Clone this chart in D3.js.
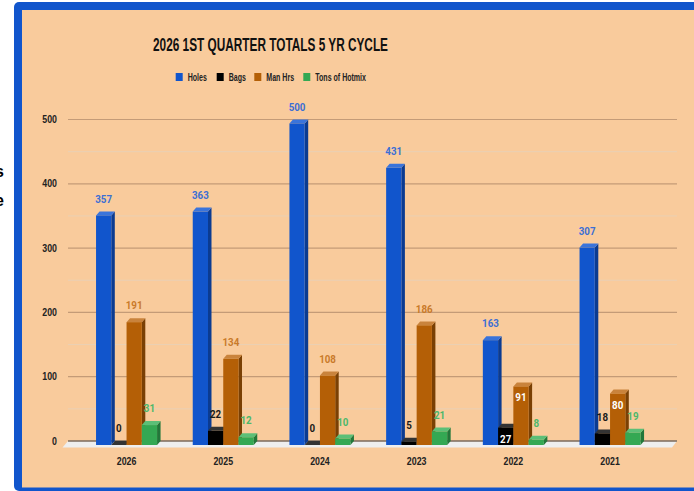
<!DOCTYPE html>
<html lang="en">
<script src="https://d3js.org/d3.v7.min.js"></script>
<style>
    body {margin: 0; background: #fff;}
    svg {display: block;}
    .title {font-family: "Liberation Sans", Arial, sans-serif; font-weight: bold; font-size: 18.5px; fill: #111;}
    .legend text, .xlab, .ylab {font-family: "Liberation Sans", Arial, sans-serif; font-weight: bold; font-size: 10px; fill: #222;}
    .legend text {font-size: 10.5px;}
    .val {font-family: Roboto, "Liberation Sans", sans-serif; font-weight: bold; font-size: 11.5px; text-anchor: middle;}
</style>
<body>
    <svg width="694" height="491"></svg>
</body>
<script>
    var years = ["2026", "2025", "2024", "2023", "2022", "2021"];
    var seriesNames = ["Holes", "Bags", "Man Hrs", "Tons of Hotmix"];
    var holes = [357, 363, 500, 431, 163, 307];
    var bags = [0, 22, 0, 5, 27, 18];
    var manHrs = [191, 134, 108, 186, 91, 80];
    var hotmix = [31, 12, 10, 21, 8, 19];
    var yTicks = [0, 100, 200, 300, 400, 500];
    var minorTicks = [50, 150, 250, 350, 450];
    // labels that Sheets pushed inside the bar
    var insideLabels = ["2022|Bags", "2022|Man Hrs", "2021|Man Hrs"];

    var colors = {
        "Holes": {front: "#1155cc", side: "#0b3b91", top: "#3a74db", label: "#3c6fd4"},
        "Bags": {front: "#000000", side: "#111111", top: "#333333", label: "#1a1a1a"},
        "Man Hrs": {front: "#b45f06", side: "#7a4004", top: "#c9833c", label: "#c97a2a"},
        "Tons of Hotmix": {front: "#34a853", side: "#22773a", top: "#5cbf77", label: "#4cb86a"}
    };

    var values = {"Holes": holes, "Bags": bags, "Man Hrs": manHrs, "Tons of Hotmix": hotmix};

    var svg = d3.select("svg");

    // the sheet font is a condensed one, squeeze text horizontally
    function squeeze(sel, f){
        sel.each(function(){
            var len = this.getComputedTextLength();
            d3.select(this).attr("textLength", len * f).attr("lengthAdjust", "spacingAndGlyphs");
        });
    }

    // frame
    svg.append("rect").attr("x", 14).attr("y", 2).attr("width", 700).attr("height", 489).attr("rx", 5).attr("fill", "#1155cc");
    svg.append("rect").attr("x", 22).attr("y", 10).attr("width", 700).attr("height", 477.5).attr("fill", "#f9cb9c");

    // cut-off text left of the frame
    svg.append("text").attr("x", 4).attr("y", 177).attr("text-anchor", "end").style("font", "bold 16px 'Liberation Sans', sans-serif").text("s");
    svg.append("text").attr("x", 4).attr("y", 206).attr("text-anchor", "end").style("font", "bold 16px 'Liberation Sans', sans-serif").text("e");

    svg.append("text").attr("class", "title").attr("x", 270.5).attr("y", 50.7).attr("text-anchor", "middle")
        .attr("textLength", 235).attr("lengthAdjust", "spacingAndGlyphs")
        .text("2026 1ST QUARTER TOTALS 5 YR CYCLE");

    // legend
    var legendX = [175.7, 216.7, 254.3, 303.3];
    var leg = svg.append("g").attr("class", "legend").selectAll("g").data(seriesNames).enter().append("g")
        .attr("transform", function(d, i){return "translate(" + legendX[i] + ",73)";});
    leg.append("rect").attr("width", 7).attr("height", 8).attr("fill", function(d){return colors[d].front;});
    leg.append("text").attr("x", 12).attr("y", 7.9).text(function(d){return d;}).call(squeeze, 0.67);

    var y = d3.scaleLinear().domain([0, 500]).range([441, 119.5]);
    var x0 = d3.scaleBand().domain(years).range([78.2, 658.4]).paddingInner(0.369).paddingOuter(0.1845);
    var x1 = d3.scaleBand().domain(seriesNames).range([0, x0.bandwidth()]);
    var dx = 3.5, dy = 4;

    // gridlines
    var grid = svg.append("g");
    grid.selectAll(".minor").data(minorTicks).enter().append("line")
        .attr("x1", 68).attr("x2", 677).attr("y1", function(d){return y(d);}).attr("y2", function(d){return y(d);})
        .attr("stroke", "#ead0b4").attr("stroke-width", 1);
    grid.selectAll(".major").data(yTicks.slice(1)).enter().append("line")
        .attr("x1", 68).attr("x2", 677).attr("y1", function(d){return y(d);}).attr("y2", function(d){return y(d);})
        .attr("stroke", "#c49b77").attr("stroke-width", 1.2);

    svg.selectAll(".ylab").data(yTicks).enter().append("text").attr("class", "ylab")
        .attr("x", 57).attr("y", function(d){return y(d) + 3.6;}).attr("text-anchor", "end").text(function(d){return d;})
        .call(squeeze, 0.88);

    // floor
    svg.append("polygon").attr("points", [[68, y(0)], [677, y(0)], [672, y(0) + 6.5], [62.5, y(0) + 6.5]].join(" ")).attr("fill", "#eeeeee");
    svg.append("line").attr("x1", 68).attr("x2", 677).attr("y1", y(0)).attr("y2", y(0)).attr("stroke", "#7a6a5c").attr("stroke-width", 1.5);

    // bars
    var flat = [];
    years.forEach(function(yr, i){
        seriesNames.forEach(function(s){
            flat.push({year: yr, series: s, value: values[s][i]});
        });
    });

    var w = x1.bandwidth();
    var bars = svg.append("g").selectAll("g").data(flat).enter().append("g");
    bars.each(function(d){
        var g = d3.select(this);
        var xl = x0(d.year) + x1(d.series);
        var yt = y(d.value) + dy;
        var yb = y(0) + dy;
        var c = colors[d.series];
        g.append("polygon").attr("fill", c.side)
            .attr("points", [[xl + w, yt], [xl + w + dx, yt - dy], [xl + w + dx, yb - dy], [xl + w, yb]].join(" "));
        g.append("polygon").attr("fill", c.top)
            .attr("points", [[xl, yt], [xl + w, yt], [xl + w + dx, yt - dy], [xl + dx, yt - dy]].join(" "));
        g.append("rect").attr("x", xl).attr("y", yt).attr("width", w).attr("height", yb - yt).attr("fill", c.front);
    });

    // value labels
    svg.append("g").selectAll("text").data(flat).enter().append("text").attr("class", "val")
        .attr("x", function(d){return x0(d.year) + x1(d.series) + w / 2;})
        .attr("y", function(d){
            var yt = y(d.value) + dy;
            return insideLabels.indexOf(d.year + "|" + d.series) >= 0 ? yt + 15 : yt - 12.8;
        })
        .attr("fill", function(d){return insideLabels.indexOf(d.year + "|" + d.series) >= 0 ? "#ffffff" : colors[d.series].label;})
        .text(function(d){return d.value;})
        .call(squeeze, 0.85);

    // x labels
    svg.selectAll(".xlab").data(years).enter().append("text").attr("class", "xlab")
        .attr("x", function(d){return x0(d) + x0.bandwidth() / 2;}).attr("y", 464.8).attr("text-anchor", "middle")
        .text(function(d){return d;})
        .call(squeeze, 0.88);
</script>
</html>
